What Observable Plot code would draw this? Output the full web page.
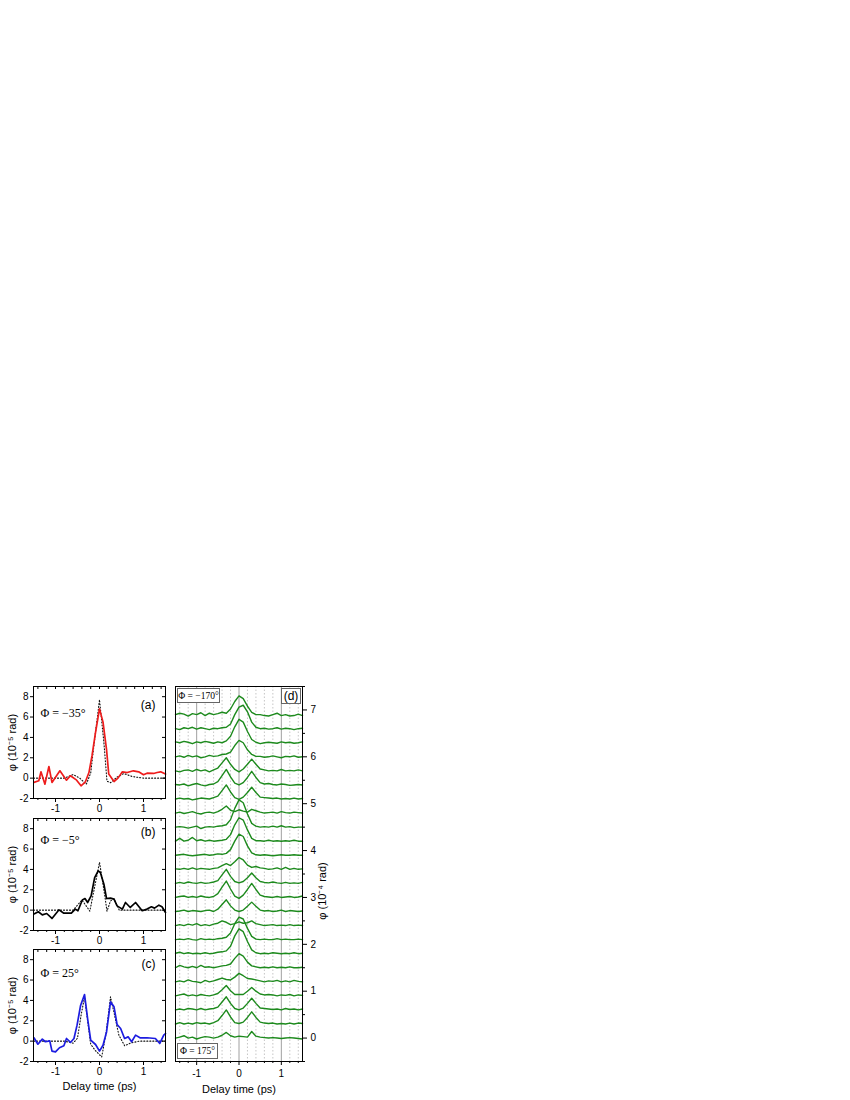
<!DOCTYPE html>
<html>
<head>
<meta charset="utf-8">
<script src="https://cdn.jsdelivr.net/npm/d3@7"></script>
<script src="https://cdn.jsdelivr.net/npm/@observablehq/plot@0.6"></script>
<style>
html,body{margin:0;padding:0;background:#fff;}
body{width:850px;height:1100px;position:relative;overflow:hidden;font-family:"Liberation Sans",Arial,sans-serif;}
.panel{position:absolute;}
.panel svg{overflow:visible;}
.box{position:absolute;box-sizing:border-box;background:#fff;border:1px solid #666;display:flex;align-items:center;justify-content:center;white-space:nowrap;color:#000;}
.serif{font-family:"Liberation Serif","Times New Roman",serif;font-size:9.5px;}
.sans{font-family:"Liberation Sans",Arial,sans-serif;font-size:12px;}
</style>
</head>
<body>
<div id="pa" class="panel" style="left:0px;top:676px"></div>
<div id="pb" class="panel" style="left:0px;top:808px"></div>
<div id="pc" class="panel" style="left:0px;top:939px"></div>
<div id="pd" class="panel" style="left:165px;top:676px"></div>
<div class="box serif" style="left:177px;top:688px;width:43px;height:15px">Φ = −170°</div>
<div class="box sans" style="left:281px;top:688px;width:20px;height:16px">(d)</div>
<div class="box serif" style="left:177px;top:1043px;width:41px;height:16px">Φ = 175°</div>
<script>
// ---------- Panel (a): Φ = −35° ----------
const delayA = [-1.49,-1.38,-1.33,-1.24,-1.15,-1.08,-0.90,-0.75,-0.66,-0.52,-0.42,-0.32,-0.24,-0.17,-0.09,0,0.08,0.16,0.21,0.33,0.42,0.52,0.63,0.77,0.89,1.0,1.08,1.23,1.31,1.39,1.5];
const phaseA = [-0.42,-0.26,0.62,-0.59,1.14,-0.42,0.72,-0.2,0.23,-0.2,-0.75,-0.36,0.55,2.2,4.5,6.8,5.5,2.8,0.4,-0.33,0,0.62,0.55,0.72,0.62,0.33,0.49,0.46,0.55,0.62,0.4];
const modelDelayA = [-1.5,-0.8,-0.6,-0.45,-0.3,-0.2,-0.1,0,0.1,0.17,0.25,0.4,0.55,0.75,1.0,1.5];
const modelA = [0,0,0.35,0,-0.6,0.5,4.2,7.7,3.5,-0.3,-0.45,0.1,0.45,0.15,0,0];

// ---------- Panel (b): Φ = −5° ----------
const delayB = [-1.49,-1.39,-1.3,-1.2,-1.08,-0.92,-0.81,-0.64,-0.55,-0.49,-0.39,-0.33,-0.27,-0.19,-0.11,-0.03,0.02,0.1,0.16,0.25,0.33,0.4,0.52,0.59,0.7,0.82,0.97,1.08,1.18,1.25,1.35,1.42,1.5];
const phaseB = [-0.39,-0.16,-0.46,-0.33,-0.82,0.03,-0.3,-0.3,0.1,-0.06,1.0,1.14,0.75,1.4,3.2,3.86,3.7,2.55,1.14,1.18,1.08,0.42,0.1,0.75,0.26,0.75,-0.06,0.1,0.33,0.2,0.49,0.33,-0.23];
const modelDelayB = [-1.5,-0.6,-0.5,-0.4,-0.3,-0.22,-0.1,0,0.1,0.17,0.25,0.33,0.45,1.5];
const modelB = [0,0,0.5,1.0,0.4,-0.1,2.5,4.7,2.0,-0.1,0.9,1.1,0,0];

// ---------- Panel (c): Φ = 25° ----------
const delayC = [-1.49,-1.4,-1.3,-1.23,-1.13,-1.08,-1.0,-0.91,-0.81,-0.75,-0.66,-0.58,-0.51,-0.43,-0.34,-0.27,-0.2,-0.09,0,0.08,0.16,0.25,0.33,0.4,0.48,0.57,0.65,0.73,0.82,0.92,1.08,1.27,1.37,1.46,1.5];
const phaseC = [0.33,-0.3,0.2,-0.06,0.03,-0.98,-1.05,-0.65,-0.46,0.26,-0.13,0.26,1.57,3.5,4.58,2.2,0.1,-0.33,-0.98,-0.4,0.9,3.86,3.37,1.63,1.24,0.26,0.42,-0.06,0.59,0.33,0.33,0.26,-0.23,0.59,0.75];
const modelDelayC = [-1.5,-0.8,-0.6,-0.5,-0.42,-0.34,-0.27,-0.2,-0.1,0.05,0.15,0.25,0.33,0.44,0.57,0.7,0.9,1.5];
const modelC = [0,0,-0.2,0.3,2.5,4.35,2.0,-0.3,-0.9,-1.55,0.8,4.35,2.8,0.6,-0.45,-0.2,0,0];

// ---------- Panel (d): waterfall, Φ = −170° (top) … 175° (bottom) ----------
const delayD = [-1.5,-1.4,-1.3,-1.2,-1.1,-1.0,-0.9,-0.8,-0.7,-0.6,-0.5,-0.4,-0.3,-0.2,-0.1,0,0.1,0.2,0.3,0.4,0.5,0.6,0.7,0.8,0.9,1.0,1.1,1.2,1.3,1.4,1.5];
const phiD = [-170,-155,-140,-125,-110,-95,-80,-65,-50,-35,-20,-5,10,25,40,55,70,85,100,115,130,145,160,175];
const signalD = [
 [0.00,0.03,0.01,-0.03,0.02,0.00,0.04,-0.02,0.03,0.00,0.02,0.05,0.03,0.12,0.28,0.40,0.34,0.18,0.05,0.00,0.00,-0.02,-0.03,0.00,0.03,-0.02,0.00,-0.03,-0.02,0.01,-0.02],
 [0.00,-0.02,0.02,0.00,0.03,-0.01,0.02,0.00,-0.02,0.01,0.00,0.02,0.03,0.10,0.30,0.46,0.50,0.36,0.14,0.03,0.00,0.01,-0.01,0.00,0.02,-0.01,0.01,0.00,-0.02,0.00,0.01],
 [0.02,0.00,0.03,0.01,-0.02,0.02,0.00,0.03,0.01,-0.01,0.02,0.00,0.04,0.14,0.34,0.50,0.44,0.24,0.07,0.01,-0.02,0.00,0.01,0.00,-0.01,0.02,0.00,0.01,-0.01,0.00,0.02],
 [0.00,0.02,-0.01,0.03,0.00,0.02,-0.02,0.00,0.03,0.01,0.02,0.05,0.06,0.10,0.24,0.35,0.30,0.15,0.05,0.01,0.01,-0.01,0.00,0.02,0.00,-0.02,0.01,0.00,0.02,-0.01,0.00],
 [0.00,-0.02,0.01,0.02,-0.01,0.03,0.00,0.02,-0.02,0.02,0.06,0.17,0.28,0.14,0.03,-0.02,0.04,0.14,0.25,0.14,0.04,0.02,0.00,0.01,0.00,0.03,0.00,0.01,0.00,0.02,0.00],
 [0.01,0.00,0.02,-0.02,0.01,0.03,0.00,-0.02,0.01,0.02,0.07,0.20,0.33,0.17,0.04,0.00,0.05,0.16,0.29,0.16,0.05,0.02,0.03,0.01,0.00,0.02,0.01,-0.01,0.00,0.01,0.00],
 [0.00,0.02,0.00,0.01,-0.02,0.00,0.02,0.01,0.00,0.03,0.06,0.18,0.30,0.15,0.03,-0.01,0.04,0.14,0.25,0.14,0.04,0.03,0.02,0.01,0.02,0.00,0.01,0.00,0.02,0.00,0.01],
 [0.00,0.02,-0.01,0.01,0.03,0.00,-0.02,0.01,0.02,0.00,0.03,0.08,0.15,0.06,0.03,0.07,0.04,0.02,0.08,0.05,0.02,0.00,0.01,0.02,0.00,0.03,0.01,0.00,0.02,0.01,0.00],
 [0.00,0.01,0.00,-0.02,0.00,0.02,-0.03,0.00,0.01,0.00,0.02,0.03,0.05,0.16,0.40,0.58,0.52,0.28,0.08,0.02,0.00,0.01,0.00,0.02,0.00,0.03,0.00,0.01,-0.01,0.00,0.00],
 [0.00,0.06,0.00,0.02,0.08,0.01,0.03,0.00,0.02,0.00,0.01,0.02,0.04,0.14,0.35,0.50,0.45,0.24,0.06,0.01,0.01,0.00,0.02,0.00,0.01,0.00,0.01,0.00,0.02,0.00,0.00],
 [0.00,0.01,0.02,0.00,-0.01,0.00,0.01,0.02,0.00,0.01,0.03,0.02,0.04,0.12,0.30,0.45,0.40,0.20,0.05,0.01,0.00,0.01,0.00,-0.01,0.00,0.01,0.00,0.00,0.01,0.00,0.00],
 [0.01,0.00,0.02,0.00,0.03,0.00,0.02,0.01,0.00,0.02,0.03,0.08,0.12,0.08,0.16,0.25,0.20,0.09,0.04,0.06,0.03,0.02,0.00,0.01,0.03,0.00,0.04,0.00,0.02,0.00,0.01],
 [0.00,0.02,0.00,0.03,0.01,0.00,0.02,0.00,0.01,0.03,0.06,0.18,0.30,0.15,0.04,0.01,0.04,0.12,0.22,0.12,0.04,0.02,0.01,0.03,0.01,0.00,0.02,0.00,0.01,0.00,0.02],
 [0.00,0.02,0.03,0.00,0.02,0.00,0.03,0.01,0.00,0.02,0.08,0.22,0.35,0.18,0.03,-0.02,0.05,0.17,0.30,0.17,0.05,0.02,0.01,0.00,0.02,0.00,0.01,0.02,0.00,0.01,0.03],
 [0.00,0.01,0.03,0.00,0.02,0.01,0.00,0.02,0.03,0.00,0.05,0.15,0.25,0.12,0.03,0.00,0.03,0.11,0.20,0.11,0.03,0.01,0.02,0.00,0.01,0.03,0.00,0.02,0.01,0.00,0.01],
 [0.00,0.02,0.00,0.03,0.01,0.04,0.00,0.02,0.00,0.03,0.05,0.10,0.07,0.02,0.04,0.08,0.05,0.06,0.10,0.04,0.02,0.00,0.01,0.02,0.00,0.01,0.00,0.02,0.00,0.01,0.00],
 [0.00,0.01,0.00,0.02,0.00,-0.01,0.02,0.00,0.01,0.00,0.02,0.03,0.05,0.14,0.34,0.48,0.44,0.24,0.07,0.01,0.00,0.01,0.00,0.00,0.02,0.00,0.01,0.00,0.00,0.01,0.00],
 [0.01,0.03,0.00,0.02,0.00,0.01,0.00,0.02,0.00,0.01,0.03,0.04,0.06,0.16,0.38,0.53,0.47,0.26,0.08,0.02,0.00,0.01,0.00,0.02,0.01,0.00,0.01,0.00,0.02,0.00,0.01],
 [0.00,0.05,0.02,0.00,0.03,0.00,0.05,0.01,0.02,0.00,0.02,0.04,0.05,0.08,0.20,0.30,0.25,0.12,0.04,0.02,0.00,0.01,0.00,0.02,0.00,0.01,0.00,0.02,0.00,0.00,0.01],
 [0.00,0.02,0.00,0.04,0.01,0.00,-0.02,0.03,0.00,0.02,0.05,0.08,0.05,0.04,0.10,0.18,0.13,0.07,0.06,0.04,0.02,0.00,0.02,0.01,0.03,0.00,0.02,0.00,0.03,0.01,0.00],
 [0.00,0.02,0.04,0.00,0.02,0.00,0.03,0.01,0.00,0.02,0.05,0.13,0.22,0.11,0.03,0.03,0.03,0.10,0.18,0.10,0.04,0.02,0.03,0.02,0.00,0.02,0.01,0.03,0.00,0.02,0.01],
 [0.00,0.02,0.00,0.03,0.02,0.00,0.03,0.00,0.02,0.03,0.06,0.17,0.28,0.14,0.03,0.00,0.04,0.14,0.25,0.14,0.04,0.03,0.02,0.01,0.02,0.00,0.03,0.01,0.02,0.00,0.02],
 [0.00,0.03,0.00,0.02,0.00,0.03,0.01,0.02,0.00,0.03,0.07,0.18,0.30,0.15,0.03,0.01,0.04,0.14,0.26,0.14,0.04,0.02,0.01,0.02,0.00,0.01,0.00,0.02,0.00,0.02,0.01],
 [0.00,0.02,0.05,0.00,0.02,-0.02,0.01,0.03,0.02,0.00,0.02,0.06,0.12,0.05,0.02,0.04,0.03,0.02,0.14,0.04,0.02,0.01,0.00,0.01,0.00,-0.01,0.00,0.01,0.00,-0.01,-0.02]
];

// ---------- Text ----------
const yLabelLeft = "φ (10⁻⁵ rad)";
const yLabelRight = "φ (10⁻⁴ rad)";
const xLabel = "Delay time (ps)";

// ---------- Drawing ----------
const SANS = "'Liberation Sans', Arial, Helvetica, sans-serif";
const SERIF = "'Liberation Serif', 'Times New Roman', serif";
const fmt = d => (d < 0 ? "-" + Math.abs(d) : String(d));
const blank = () => "";
const xMajor = [-1, 0, 1];
const xMinor = d3.range(-7, 8).map(i => i / 5).filter(d => Math.abs(d - Math.round(d)) > 1e-9);
const yTicksLeft = [-2, 0, 2, 4, 6, 8];
const baseStyle = {fontFamily: SANS, fontSize: "10px", color: "#000", background: "transparent", overflow: "visible"};

function leftPanel(id, t, v, tm, vm, color, phiText, tag, o) {
  const meas = t.map((d, i) => ({t: d, v: v[i]}));
  const model = tm.map((d, i) => ({t: d, v: vm[i]}));
  const marks = [
    Plot.line(model, {x: "t", y: "v", stroke: "#111", strokeWidth: 1.1, strokeDasharray: "1,2"}),
    Plot.line(meas, {x: "t", y: "v", stroke: color, strokeWidth: 1.7}),
    Plot.frame({stroke: "#000", strokeWidth: 1}),
    Plot.axisY(yTicksLeft, {anchor: "left", tickSize: 3, tickPadding: 2, tickFormat: fmt, label: null}),
    Plot.axisY(yTicksLeft, {anchor: "left", frameAnchor: "right", tickSize: 3, tickFormat: blank, label: null}),
    Plot.axisX(xMajor, {anchor: "bottom", tickSize: 4, tickPadding: 2, tickFormat: fmt, label: null}),
    Plot.axisX(xMinor, {anchor: "bottom", tickSize: 2, tickFormat: blank, label: null}),
    Plot.axisX(xMajor.concat(xMinor), {anchor: "bottom", frameAnchor: "top", tickSize: 3, tickFormat: blank, label: null}),
    Plot.text([yLabelLeft], {text: d => d, frameAnchor: "left", textAnchor: "middle", dx: -21, rotate: -90, fontSize: 11}),
    Plot.text([phiText], {text: d => d, frameAnchor: "top-left", dx: 7, dy: o.phiDy, textAnchor: "start", fontFamily: SERIF, fontSize: 12}),
    Plot.text([tag], {text: d => d, frameAnchor: "top-right", dx: -10, dy: o.tagDy, textAnchor: "end", fontSize: 12})
  ];
  if (o.last) marks.push(Plot.text([xLabel], {text: d => d, frameAnchor: "bottom", dy: 28, fontSize: 11}));
  const plot = Plot.plot({
    width: 175, height: o.last ? 170 : 150,
    marginLeft: 33, marginRight: 10, marginTop: 10, marginBottom: o.last ? 48 : 28,
    style: baseStyle,
    x: {domain: [-1.5, 1.5], label: null},
    y: {domain: [-2, 9], label: null},
    marks
  });
  document.getElementById(id).append(plot);
}

leftPanel("pa", delayA, phaseA, modelDelayA, modelA, "#ee1c1c", "Φ = −35°", "(a)", {phiDy: 22, tagDy: 14});
leftPanel("pb", delayB, phaseB, modelDelayB, modelB, "#000000", "Φ = −5°", "(b)", {phiDy: 17, tagDy: 9});
leftPanel("pc", delayC, phaseC, modelDelayC, modelC, "#1c1ce0", "Φ = 25°", "(c)", {phiDy: 19, tagDy: 10, last: true});

// waterfall panel
const offsetStep = 0.3;
const rowsD = [];
signalD.forEach((curve, j) => {
  const off = (signalD.length - 1 - j) * offsetStep;
  curve.forEach((val, i) => rowsD.push({phi: phiD[j], t: delayD[i], y: val + off}));
});
const yMajorD = d3.range(0, 8);
const yMinorD = d3.range(0, 8).map(d => d - 0.5).concat([7.5]);
const plotD = Plot.plot({
  width: 165, height: 430,
  marginLeft: 10, marginRight: 28, marginTop: 10, marginBottom: 45,
  style: baseStyle,
  x: {domain: [-1.5, 1.5], label: null},
  y: {domain: [-0.5, 7.5], label: null},
  marks: [
    Plot.ruleX(xMinor, {stroke: "#b8b8b8", strokeWidth: 0.8, strokeDasharray: "1.5,2"}),
    Plot.ruleX(xMajor, {stroke: "#a0a0a0", strokeWidth: 1}),
    Plot.line(rowsD, {x: "t", y: "y", z: "phi", stroke: "#1d8a1d", strokeWidth: 1.4}),
    Plot.frame({stroke: "#000", strokeWidth: 1}),
    Plot.axisX(xMajor, {anchor: "bottom", tickSize: 4, tickPadding: 4, tickFormat: fmt, label: null}),
    Plot.axisX(xMinor, {anchor: "bottom", tickSize: 2, tickFormat: blank, label: null}),
    Plot.axisY(yMajorD, {anchor: "right", tickSize: 4, tickPadding: 4, tickFormat: fmt, label: null}),
    Plot.axisY(yMinorD, {anchor: "right", tickSize: 2, tickFormat: blank, label: null}),
    Plot.text([yLabelRight], {text: d => d, frameAnchor: "right", textAnchor: "middle", dx: 20, dy: 17, rotate: -90, fontSize: 11}),
    Plot.text([xLabel], {text: d => d, frameAnchor: "bottom", dy: 31, fontSize: 11})
  ]
});
document.getElementById("pd").append(plotD);
</script>
</body>
</html>
